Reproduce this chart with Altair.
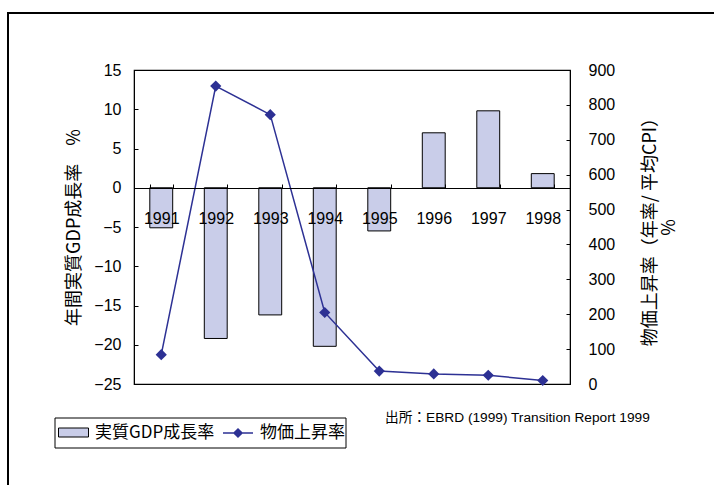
import altair as alt
import pandas as pd

years = ["1991", "1992", "1993", "1994", "1995", "1996", "1997", "1998"]
gdp_growth = [-5.1, -19.2, -16.2, -20.2, -5.5, 7.0, 9.8, 1.8]
cpi_inflation = [84, 854, 772, 205, 37, 29, 25, 10]

gdp_name = "実質GDP成長率"
cpi_name = "物価上昇率"
left_title = "年間実質GDP成長率　%"
right_title = ["物価上昇率（年率/ 平均CPI）", "%"]
source_text = "出所：EBRD (1999) Transition Report 1999"
left_ticks = [-25, -20, -15, -10, -5, 0, 5, 10, 15]
right_ticks = [0, 100, 200, 300, 400, 500, 600, 700, 800, 900]

df = pd.DataFrame({"year": years, "gdp": gdp_growth, "cpi": cpi_inflation,
                   "s1": gdp_name, "s2": cpi_name})

BAR = "#c9cde9"
NAVY = "#2d3194"
LAT = "Liberation Sans"
JP = "Noto Sans CJK JP"

W, H = 436, 314
L, T = 134, 70

x_enc = alt.X("year:N", sort=years,
              scale=alt.Scale(paddingInner=0.58, paddingOuter=0.29),
              axis=alt.Axis(title=None, orient="bottom", offset=-196, labelAngle=0,
                            domainColor="black", domainWidth=1.2,
                            tickColor="black", tickSize={"expr": "-4"}, tickBand="extent",
                            labelPadding=26, labelFont=LAT, labelFontSize=16,
                            labelColor="black", zindex=1))

bars = alt.Chart(df).mark_bar(stroke="black", strokeWidth=1).encode(
    x=x_enc,
    y=alt.Y("gdp:Q", scale=alt.Scale(domain=[-25, 15], nice=False, zero=False),
            axis=alt.Axis(title=left_title, values=left_ticks, orient="left",
                          grid=False, domainColor="black", tickColor="black",
                          tickSize={"expr": "-4"}, labelPadding=17,
                          labelFont=LAT, labelFontSize=16, labelColor="black",
                          titleFont=JP, titleFontSize=18, titleFontWeight="normal",
                          titleColor="black", titlePadding=10)),
    fill=alt.Fill("s1:N", scale=alt.Scale(domain=[gdp_name], range=[BAR]),
                  legend=alt.Legend(title=None, orient="none", legendX=-76, legendY=347,
                                    symbolType="M-1,-0.3H1V0.3H-1Z", symbolSize=900,
                                    symbolStrokeColor="black", symbolStrokeWidth=1,
                                    labelFont=JP, labelFontSize=17, labelColor="black",
                                    labelOffset=6, padding=0)),
)

line = alt.Chart(df).mark_line(
    strokeWidth=1.5,
    point=alt.OverlayMarkDef(shape="diamond", filled=True, fill=NAVY, size=70),
).encode(
    x=x_enc,
    y=alt.Y("cpi:Q", scale=alt.Scale(domain=[0, 900], nice=False),
            axis=alt.Axis(title=right_title, values=right_ticks, orient="right",
                          grid=False, domainColor="black", tickColor="black",
                          tickSize={"expr": "-4"}, labelPadding=22,
                          labelFont=LAT, labelFontSize=16, labelColor="black",
                          titleFont=JP, titleFontSize=18, titleFontWeight="normal",
                          titleColor="black", titleAngle=270, titlePadding=26,
                          titleLineHeight=19)),
    stroke=alt.Stroke("s2:N", scale=alt.Scale(domain=[cpi_name], range=[NAVY]),
                      legend=alt.Legend(title=None, orient="none", legendX=88, legendY=347,
                                        symbolType="M-1,0H1M0,-0.27L0.27,0L0,0.27L-0.27,0Z",
                                        symbolSize=900, symbolStrokeWidth=1.5,
                                        symbolFillColor=NAVY,
                                        labelFont=JP, labelFontSize=17, labelColor="black",
                                        labelOffset=6, padding=0)),
)

one = pd.DataFrame({"t": [source_text]})

outer = alt.Chart(one).mark_rect(fill=None, stroke="black", strokeWidth=2).encode(
    x=alt.value(8 - L), x2=alt.value(724 - L), y=alt.value(13 - T), y2=alt.value(495 - T))

legend_box = alt.Chart(one).mark_rect(fill=None, stroke="black", strokeWidth=1).encode(
    x=alt.value(55 - L), x2=alt.value(346 - L), y=alt.value(418 - T), y2=alt.value(448 - T))

source = alt.Chart(one).mark_text(align="left", baseline="middle", font=LAT + ", " + JP,
                                  fontSize=13.7, color="black").encode(
    x=alt.value(385 - L), y=alt.value(418 - T), text="t:N")

chart = alt.layer(bars, line, outer, legend_box, source).resolve_scale(
    y="independent", fill="independent", stroke="independent"
).properties(
    width=W, height=H,
    autosize=alt.AutoSizeParams(type="none"),
    padding={"left": L, "top": T, "right": 714 - L - W, "bottom": 485 - T - H},
    background="white",
).configure_view(stroke="black", strokeWidth=1.2)

chart.save("out.html", embed_options={"renderer": "svg", "actions": False})
